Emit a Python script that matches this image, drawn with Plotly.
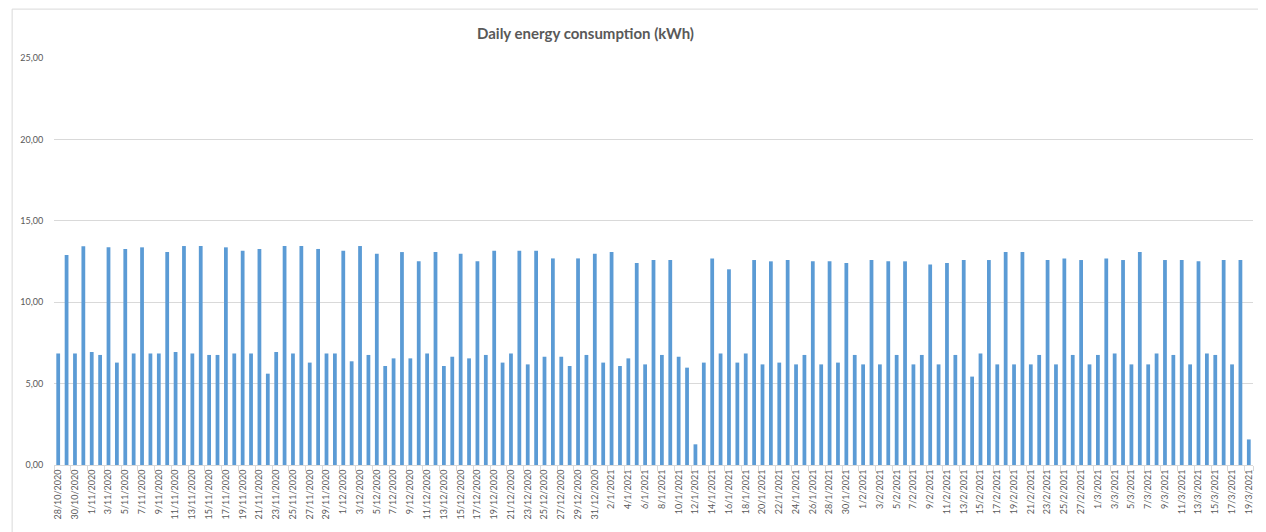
import datetime as dt
import plotly.graph_objects as go

# Dates: 28/10/2020 .. 19/3/2021 (daily)
start = dt.date(2020, 10, 28)
n_days = 143
dates = [start + dt.timedelta(days=i) for i in range(n_days)]
categories = [f"{d.day}/{d.month}/{d.year}" for d in dates]

values = [
    # Oct 28-31
    6.85, 12.90, 6.85, 13.43,
    # Nov 1-30
    6.94, 6.76, 13.37, 6.29, 13.27, 6.85, 13.37, 6.85, 6.85, 13.08,
    6.94, 13.45, 6.85, 13.45, 6.76, 6.76, 13.37, 6.85, 13.16, 6.85,
    13.27, 5.61, 6.94, 13.45, 6.85, 13.45, 6.29, 13.27, 6.85, 6.85,
    # Dec 1-31
    13.16, 6.37, 13.45, 6.76, 12.98, 6.08, 6.55, 13.08, 6.55, 12.51,
    6.85, 13.08, 6.08, 6.65, 12.98, 6.55, 12.51, 6.76, 13.16, 6.29,
    6.85, 13.16, 6.18, 13.16, 6.65, 12.69, 6.65, 6.08, 12.69, 6.76,
    12.98,
    # Jan 1-31
    6.29, 13.08, 6.08, 6.55, 12.41, 6.18, 12.59, 6.76, 12.59, 6.65,
    5.98, 1.27, 6.29, 12.69, 6.85, 12.02, 6.29, 6.85, 12.59, 6.18,
    12.51, 6.29, 12.59, 6.18, 6.76, 12.51, 6.18, 12.51, 6.29, 12.41,
    6.76,
    # Feb 1-28
    6.18, 12.59, 6.18, 12.51, 6.76, 12.51, 6.18, 6.76, 12.31, 6.18,
    12.41, 6.76, 12.59, 5.43, 6.85, 12.59, 6.18, 13.08, 6.18, 13.08,
    6.18, 6.76, 12.59, 6.18, 12.69, 6.76, 12.59, 6.18,
    # Mar 1-19
    6.76, 12.69, 6.85, 12.59, 6.18, 13.08, 6.18, 6.85, 12.59, 6.76,
    12.59, 6.18, 12.51, 6.85, 6.76, 12.59, 6.18, 12.59, 1.57,
]

y_ticks = [0, 5, 10, 15, 20, 25]
x_tick_labels = categories[::2]

title_text = "Daily energy consumption (kWh)"

font_family = "Lato, 'Open Sans', sans-serif"
grey = "#595959"
grid = "#d9d9d9"

fig = go.Figure(
    go.Bar(
        x=categories,
        y=values,
        marker=dict(color="#5B9BD5", line=dict(width=0)),
    )
)

border_x = (8 - 50) / 1203
border_top = (466 - 9) / 408

fig.update_layout(
    width=1258,
    height=524,
    margin=dict(l=42, r=13, t=50, b=66),
    paper_bgcolor="white",
    plot_bgcolor="white",
    bargap=0.55,
    separators=",.",
    showlegend=False,
    font=dict(family=font_family, color=grey),
    annotations=[
        dict(
            text="<b>" + title_text + "</b>",
            xref="paper", yref="paper",
            x=0.443, y=(466 - 33) / 408,
            xanchor="center", yanchor="middle",
            showarrow=False,
            font=dict(family=font_family, size=15, color=grey),
        )
    ],
    shapes=[
        dict(
            type="line", xref="paper", yref="paper",
            x0=border_x, x1=1.05, y0=border_top, y1=border_top,
            line=dict(color=grid, width=1), layer="below",
        ),
        dict(
            type="line", xref="paper", yref="paper",
            x0=border_x, x1=border_x, y0=-0.3, y1=border_top,
            line=dict(color=grid, width=1), layer="below",
        ),
    ],
)

fig.update_yaxes(
    range=[0, 25],
    tickvals=y_ticks,
    tickformat=".2f",
    showgrid=True,
    gridcolor=grid,
    gridwidth=1,
    zeroline=False,
    showline=False,
    ticks="outside",
    ticklen=8,
    tickcolor="rgba(0,0,0,0)",
    tickfont=dict(size=9, color=grey, family=font_family),
)

fig.update_xaxes(
    type="category",
    tickmode="array",
    tickvals=x_tick_labels,
    ticktext=x_tick_labels,
    tickangle=-90,
    showline=True,
    linecolor=grid,
    linewidth=1,
    showgrid=False,
    ticks="outside",
    ticklen=5,
    tickcolor=grid,
    tickson="boundaries",
    tickfont=dict(size=9, color=grey, family=font_family),
)

fig.write_html("out.html")
